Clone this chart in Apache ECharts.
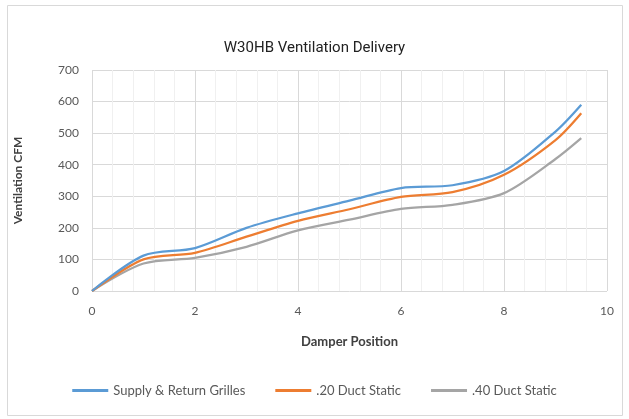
<!DOCTYPE html>
<html>
<head>
<meta charset="utf-8">
<script src="https://cdn.jsdelivr.net/npm/echarts@6/dist/echarts.min.js"></script>
<style>
  html, body { margin: 0; padding: 0; background: #fff; }
  #chart { width: 629px; height: 419px; }
</style>
</head>
<body>
<div id="chart"></div>
<script>
// Damper position (x) and delivered ventilation (CFM) per condition
const damper = [0, 1, 2, 3, 4, 5, 6, 7, 8, 9, 9.5];
const supplyReturn = [0, 112, 136, 200, 246, 286, 326, 335, 380, 505, 590];
const duct20 = [0, 100, 121, 172, 222, 259, 298, 313, 368, 478, 563];
const duct40 = [0, 87, 105, 140, 192, 226, 260, 273, 310, 418, 484];
const seriesNames = ['Supply & Return Grilles', '.20 Duct Static', '.40 Duct Static'];
const yTicks = [0, 100, 200, 300, 400, 500, 600, 700];

const COLORS = ['#5B9BD5', '#ED7D31', '#A5A5A5'];
const FONT = 'Lato, "Open Sans", sans-serif';

const pairs = (ys) => damper.map((x, i) => [x, ys[i]]);

const chart = echarts.init(document.getElementById('chart'));
chart.setOption({
  animation: false,
  color: COLORS,
  title: {
    text: 'W30HB Ventilation Delivery',
    left: 'center',
    top: 36,
    textStyle: { fontFamily: 'Roboto, sans-serif', fontSize: 15, fontWeight: 'normal', color: '#222' },
  },
  graphic: [{
    type: 'rect',
    shape: { x: 7.5, y: 5.5, width: 615, height: 410 },
    style: { fill: 'none', stroke: '#d9d9d9', lineWidth: 1 },
  }],
  grid: { left: 92, right: 22, top: 70, bottom: 128 },
  legend: {
    bottom: 17,
    left: 'center',
    itemGap: 30,
    itemWidth: 36,
    itemHeight: 3,
    icon: 'rect',
    textStyle: { fontFamily: FONT, fontSize: 13, color: '#595959' },
    data: seriesNames,
  },
  xAxis: {
    type: 'value',
    min: 0,
    max: 10,
    interval: 2,
    name: 'Damper Position',
    nameLocation: 'middle',
    nameGap: 44,
    nameTextStyle: { fontFamily: FONT, fontSize: 13, fontWeight: 'bold', color: '#404040' },
    axisLine: { show: false },
    axisTick: { show: false },
    axisLabel: { fontFamily: FONT, fontSize: 12, color: '#595959', margin: 14 },
    splitLine: { lineStyle: { color: '#d9d9d9' } },
    minorTick: { show: false, splitNumber: 5 },
    minorSplitLine: { show: true, lineStyle: { color: '#f0f0f0' } },
  },
  yAxis: {
    type: 'value',
    min: yTicks[0],
    max: yTicks[yTicks.length - 1],
    interval: 100,
    name: 'Ventilation CFM',
    nameLocation: 'middle',
    nameGap: 68,
    nameTextStyle: { fontFamily: FONT, fontSize: 12, fontWeight: 'bold', color: '#404040' },
    axisLine: { show: false },
    axisTick: { show: false },
    axisLabel: { fontFamily: FONT, fontSize: 12, color: '#595959', margin: 13 },
    splitLine: { lineStyle: { color: '#d9d9d9' } },
  },
  series: [supplyReturn, duct20, duct40].map((ys, i) => ({
    name: seriesNames[i],
    type: 'line',
    data: pairs(ys),
    smooth: 0.3,
    showSymbol: false,
    lineStyle: { width: 2.25, color: COLORS[i] },
    z: 5 - i,
  })),
});
</script>
</body>
</html>
